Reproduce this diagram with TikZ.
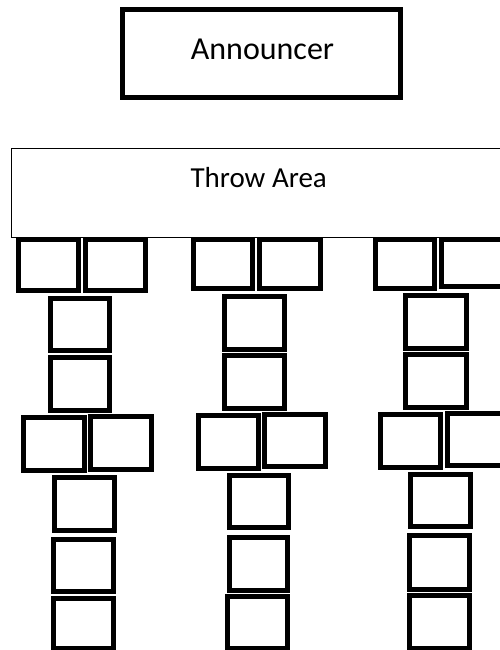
\documentclass[tikz,border=0pt]{standalone}
\usepackage{fontspec}
\setmainfont{Carlito}
\tikzset{
  sbox/.style={draw=black, fill=white, line width=4.7pt, inner sep=0pt, outer sep=0pt, rectangle},
  bigbox/.style={draw=black, fill=white, line width=5pt, inner sep=0pt, outer sep=0pt, rectangle},
  areabox/.style={draw=black, fill=white, line width=1pt, inner sep=0pt, outer sep=0pt, rectangle},
  lbl/.style={anchor=base, inner sep=0pt, text=black}
}
\newcommand\bx[5]{\node[sbox, minimum width={#4-#2-4.7}, minimum height={#5-#3-4.7}] (#1) at ({(#2+#4)/2},{(#3+#5)/2}) {};}
\begin{document}
\begin{tikzpicture}[x=1pt,y=-1pt]
\useasboundingbox (0,0) rectangle (500,650);
\clip (0,0) rectangle (500,650);
\fill[white] (0,0) rectangle (500,650);
% Announcer
\node[bigbox, minimum width=277.7, minimum height=88.3] (ann) at (261.3,53.3) {};
\node[lbl, font=\fontsize{32}{38}\selectfont] (anntxt) at (262.5,59.3) {Announcer};
% Throw area
\node[areabox, minimum width=510, minimum height=89] (throw) at (266,192.5) {};
\node[lbl, font=\fontsize{29}{35}\selectfont] (throwtxt) at (258.7,187) {Throw Area};
% Row 1
\bx{aA}{16}{237}{81}{293}
\bx{aB}{83}{237}{148}{293}
\bx{bA}{191}{237}{255}{291}
\bx{bB}{257}{237}{323}{291}
\bx{cA}{373}{237}{437}{291}
\bx{cB}{439}{237}{505}{289}
% Row 2
\bx{a2}{48}{296}{112}{353}
\bx{b2}{222}{294}{287}{352}
\bx{c2}{403}{293}{469}{351}
% Row 3
\bx{a3}{48}{355}{112}{413}
\bx{b3}{222}{353}{287}{411}
\bx{c3}{403}{352}{469}{410}
% Row 4
\bx{a4L}{21}{415}{87}{473}
\bx{a4R}{88}{414}{154}{472}
\bx{b4L}{196}{413}{261}{471}
\bx{b4R}{262}{412}{328}{469}
\bx{c4L}{378}{412}{443}{470}
\bx{c4R}{445}{411}{511}{468}
% Row 5
\bx{a5}{52}{475}{117}{533}
\bx{b5}{227}{473}{291}{530}
\bx{c5}{408}{472}{473}{529}
% Row 6
\bx{a6}{51}{537}{116}{594}
\bx{b6}{227}{535}{290}{593}
\bx{c6}{407}{533}{472}{592}
% Row 7
\bx{a7}{51}{596}{116}{651}
\bx{b7}{225}{594}{290}{651}
\bx{c7}{407}{593}{472}{651}
\end{tikzpicture}
\end{document}
